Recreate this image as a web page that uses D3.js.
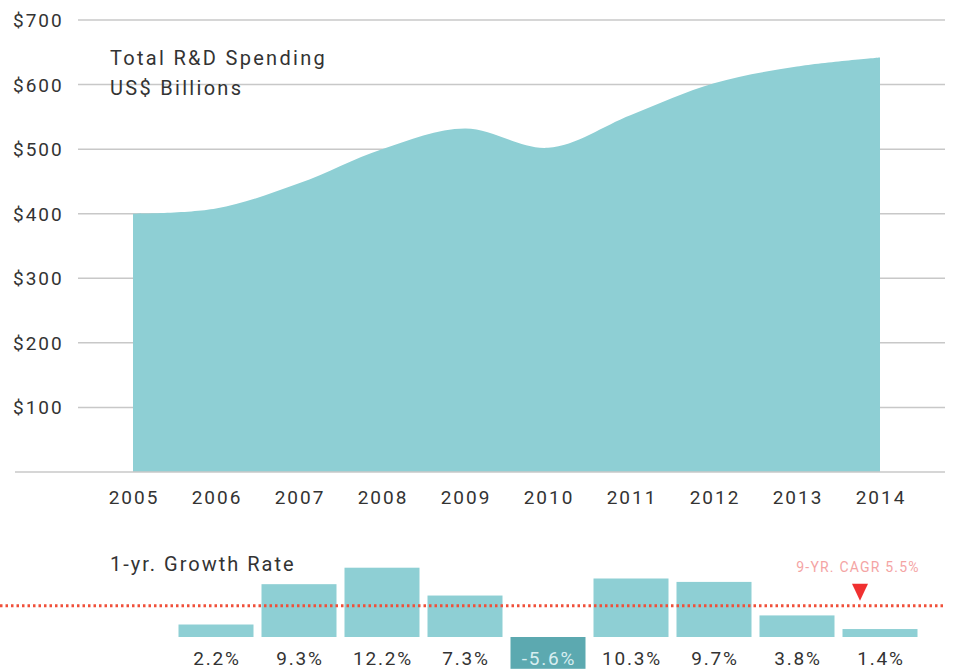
<!DOCTYPE html>
<html><head><meta charset="utf-8">
<script src="https://cdn.jsdelivr.net/npm/d3@7"></script>
<style>
html,body{margin:0;padding:0;background:#fff;}
svg{display:block;font-family:Roboto,"DejaVu Sans",sans-serif;}
</style></head>
<body>
<svg id="c" width="953" height="669"></svg>
<script>
const years = [2005,2006,2007,2008,2009,2010,2011,2012,2013,2014];
const spending = [400,408,447,500,532,502,553,602,628,642];
const yTicks = [100,200,300,400,500,600,700];
const growthYears = [2006,2007,2008,2009,2010,2011,2012,2013,2014];
const growth = [2.2,9.3,12.2,7.3,-5.6,10.3,9.7,3.8,1.4];
const cagr = 5.5;
const cagrLabel = "9-YR. CAGR 5.5%";

const svg = d3.select("#c");
const x = d3.scalePoint().domain(years).range([133,880]);
const y = d3.scaleLinear().domain([0,700]).range([472,20]);

// gridlines
svg.append("g").selectAll("line").data(yTicks).join("line")
  .attr("x1",78).attr("x2",945)
  .attr("y1",d=>y(d)).attr("y2",d=>y(d))
  .attr("stroke","#c8c8c8").attr("stroke-width",1.5);

// area
const area = d3.area().x(d=>x(d.year)).y0(y(0)).y1(d=>y(d.v)).curve(d3.curveCatmullRom.alpha(0.5));
svg.append("path")
  .datum(years.map((yr,i)=>({year:yr,v:spending[i]})))
  .attr("d",area).attr("fill","#8ecfd4");

// baseline
svg.append("line").attr("x1",15).attr("x2",945).attr("y1",y(0)).attr("y2",y(0))
  .attr("stroke","#c8c8c8").attr("stroke-width",1.5);

// y axis labels
svg.append("g").selectAll("text").data(yTicks).join("text")
  .attr("x",13).attr("y",d=>y(d)+7)
  .attr("font-size",19).attr("letter-spacing",2).attr("fill","#333")
  .text(d=>"$"+d);

// x axis labels
svg.append("g").selectAll("text").data(years).join("text")
  .attr("x",d=>x(d)+1).attr("y",y(0)+32)
  .attr("text-anchor","middle")
  .attr("font-size",19).attr("letter-spacing",2).attr("fill","#333")
  .text(d=>d);

// title
svg.append("text").attr("x",110).attr("y",65).attr("font-size",20).attr("letter-spacing",2.3).attr("fill","#333").text("Total R&D Spending");
svg.append("text").attr("x",110).attr("y",95).attr("font-size",20).attr("letter-spacing",2.3).attr("fill","#333").text("US$ Billions");

// growth bars
const gy = d3.scaleLinear().domain([0,1]).range([637,637-5.68]);
const bw = 75;
const gdata = growthYears.map((yr,i)=>({year:yr,v:growth[i]}));
svg.append("g").selectAll("rect").data(gdata).join("rect")
  .attr("x",d=>x(d.year)-bw/2).attr("width",bw)
  .attr("y",d=>Math.min(gy(d.v),gy(0)))
  .attr("height",d=>Math.abs(gy(d.v)-gy(0)))
  .attr("fill",d=>d.v<0?"#5ca9b0":"#8ecfd4");

svg.append("g").selectAll("text").data(gdata).join("text")
  .attr("x",d=>x(d.year)+1).attr("y",665)
  .attr("text-anchor","middle").attr("font-size",19).attr("letter-spacing",1.8)
  .attr("fill",d=>d.v<0?"#d8eef0":"#333")
  .text(d=>d.v.toFixed(1)+"%");

svg.append("text").attr("x",110).attr("y",571).attr("font-size",20).attr("letter-spacing",2).attr("fill","#333").text("1-yr. Growth Rate");

// CAGR line
svg.append("line").attr("x1",0).attr("x2",945).attr("y1",gy(cagr)).attr("y2",gy(cagr))
  .attr("stroke","#f0503a").attr("stroke-width",3).attr("stroke-dasharray","2.5,3");
const tx = 860;
svg.append("path")
  .attr("d",`M${tx-8},${gy(cagr)-22}L${tx+8},${gy(cagr)-22}L${tx},${gy(cagr)-5}Z`)
  .attr("fill","#f03030");
svg.append("text").attr("x",858).attr("y",572).attr("text-anchor","middle")
  .attr("font-size",14).attr("letter-spacing",1.2).attr("fill","#f4a4a4").text(cagrLabel);
</script>
</body></html>
